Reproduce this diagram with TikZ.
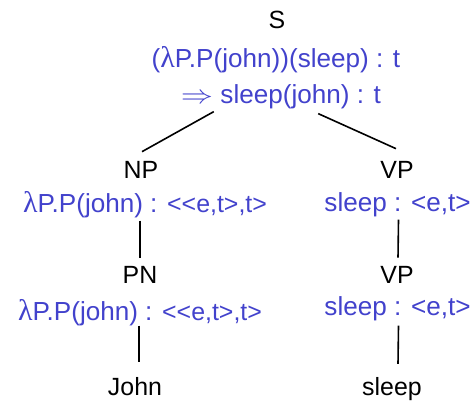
\documentclass[tikz,border=0pt]{standalone}
\usepackage{fontspec}
\usepackage{graphicx}
\usetikzlibrary{calc}
\setmainfont{Liberation Sans}
\newfontfamily\lamfont{Liberation Serif}
\definecolor{semblue}{RGB}{66,66,204}
\newcommand{\lam}{{\lamfont\fontsize{30}{30}\selectfont λ}}
\newcommand{\typesm}[1]{{\fontsize{25}{25}\selectfont #1}}
\newcommand{\yields}{\scalebox{1.3}[1.05]{$\Rightarrow$}}
\begin{document}
\begin{tikzpicture}[x=1bp,y=-1bp,
  cat/.style={font=\fontsize{25}{25}\selectfont, inner sep=0pt, anchor=base},
  semtxt/.style={cat, font=\fontsize{26.2}{26.2}\selectfont, text=semblue},
  edge/.style={line width=1.6bp}]
\useasboundingbox (0,0) rectangle (474,403);

% root
\node[cat]    (s)  at (277,28)  {S};
\node[semtxt] (s1) at (276,67)  {(\lam P.P(john))(sleep) : t};
\node[semtxt] (s2) at (281,103) {\yields\ sleep(john) : t};

% subject branch
\node[cat]    (np)    at (141,178) {NP};
\node[semtxt] (npsem) at (145,212) {\lam P.P(john) : \typesm{<{}<e,t>,t>}};
\node[cat]    (pn)    at (140,283) {PN};
\node[semtxt] (pnsem) at (140,320) {\lam P.P(john) : \typesm{<{}<e,t>,t>}};
\node[cat]    (john)  at (135,395) {John};

% predicate branch
\node[cat]    (vp)     at (397,178) {VP};
\node[semtxt] (vpsem)  at (397.5,211) {sleep : <e,t>};
\node[cat]    (vp2)    at (397,283) {VP};
\node[semtxt] (vp2sem) at (397.5,315) {sleep : <e,t>};
\node[cat]    (sleep)  at (392,395) {sleep};

% branches
\draw[edge] ($(s2.south west)+(33,3)$) -- ($(np.north)+(1,-9)$);
\draw[edge] ($(s2.south east)+(-63,5)$) -- ($(vp.north)+(-1,-12)$);
\draw[edge] ($(np.north |- npsem.south)+(-1,3)$) -- ($(pn.north)+(0,-8)$);
\draw[edge] ($(vpsem.south)+(1,3)$) -- ($(vp2.north)+(1,-8)$);
\draw[edge] ($(pnsem.south -| pn.north)+(-1,0)$) -- ($(pn.north |- john.north)+(-1,-15)$);
\draw[edge] ($(vp2sem.south)+(1,5)$) -- ($(vp2.north |- sleep.north)+(1,-13)$);
\end{tikzpicture}
\end{document}
